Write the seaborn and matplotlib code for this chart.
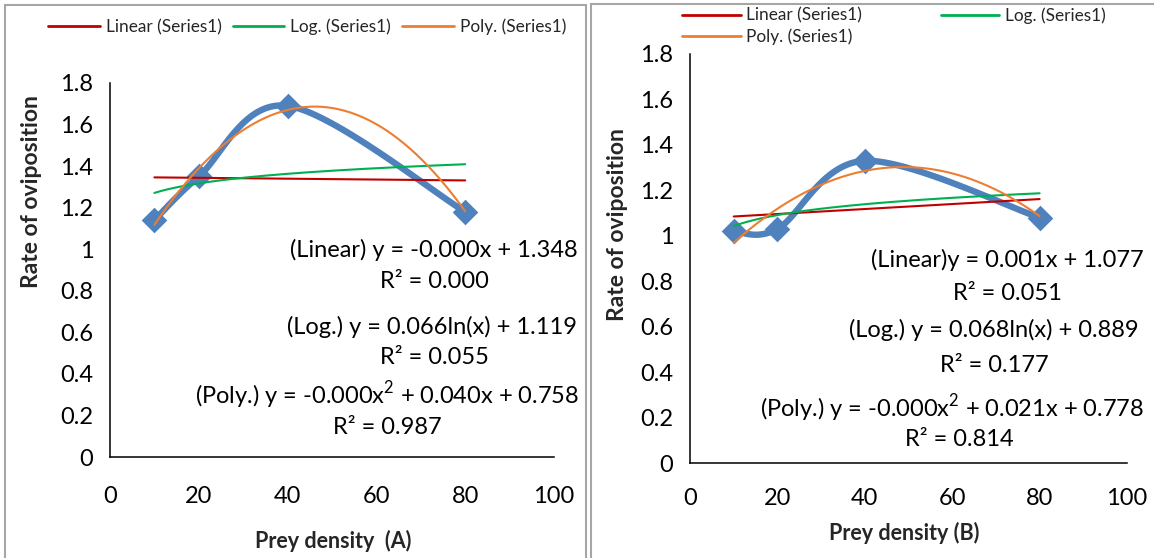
import numpy as np
import matplotlib
matplotlib.use("Agg")
import matplotlib.pyplot as plt
import matplotlib.patches as mpatches
from matplotlib.lines import Line2D
import seaborn as sns

# ---------------- data ----------------
prey_density = [10, 20, 40, 80]
rate_A = [1.14, 1.35, 1.69, 1.18]
rate_B = [1.02, 1.03, 1.33, 1.08]

eq_A = ["(Linear) y = -0.000x + 1.348", "R² = 0.000",
        "(Log.) y = 0.066ln(x) + 1.119", "R² = 0.055",
        "(Poly.) y = -0.000x$^2$ + 0.040x + 0.758", "R² = 0.987"]
eq_B = ["(Linear)y = 0.001x + 1.077", "R² = 0.051",
        "(Log.) y = 0.068ln(x) + 0.889", "R² = 0.177",
        "(Poly.) y = -0.000x$^2$ + 0.021x + 0.778", "R² = 0.814"]
legend_labels = ["Linear (Series1)", "Log. (Series1)", "Poly. (Series1)"]
xlabels = ["Prey density  (A)", "Prey density (B)"]
ylabel = "Rate of oviposition"
xticks = [0, 20, 40, 60, 80, 100]
yticks = [0, 0.2, 0.4, 0.6, 0.8, 1.0, 1.2, 1.4, 1.6, 1.8]
ytick_labels = ["0", "0.2", "0.4", "0.6", "0.8", "1", "1.2", "1.4", "1.6", "1.8"]

# ---------------- style ----------------
sns.set_theme(style="white")
plt.rcParams["font.family"] = ["Lato", "DejaVu Sans"]
plt.rcParams["mathtext.fontset"] = "custom"
plt.rcParams["mathtext.rm"] = "Lato"

BLUE = "#4F81BD"
RED = "#C00000"
GREEN = "#00B050"
ORANGE = "#ED7D31"
EQ_FS = 17
TICK_FS = 17


def smooth_curve(x, y, n=40):
    """Catmull-Rom style smoothing (like a spreadsheet 'smoothed line')."""
    x = np.asarray(x, float)
    y = np.asarray(y, float)
    P = np.column_stack([x, y])
    out = []
    for i in range(len(P) - 1):
        p0 = P[i - 1] if i > 0 else P[i]
        p1 = P[i]
        p2 = P[i + 1]
        p3 = P[i + 2] if i + 2 < len(P) else P[i + 1]
        c1 = p1 + (p2 - p0) / 6.0
        c2 = p2 - (p3 - p1) / 6.0
        t = np.linspace(0, 1, n)[:, None]
        seg = ((1 - t) ** 3) * p1 + 3 * ((1 - t) ** 2) * t * c1 + 3 * (1 - t) * t ** 2 * c2 + t ** 3 * p2
        out.append(seg if i == 0 else seg[1:])
    s = np.vstack(out)
    return s[:, 0], s[:, 1]


fig = plt.figure(figsize=(11.54, 5.58), dpi=100)

# panel borders
fig.patches.append(mpatches.Rectangle((5 / 1154, -0.01), (586 - 5) / 1154, (553 / 558) + 0.01,
                                      transform=fig.transFigure, fill=False,
                                      edgecolor="#A6A6A6", linewidth=1.5))
fig.patches.append(mpatches.Rectangle((591 / 1154, -0.01), 0.5, (554 / 558) + 0.01,
                                      transform=fig.transFigure, fill=False,
                                      edgecolor="#A6A6A6", linewidth=1.5))

axA = fig.add_axes([110 / 1154, (558 - 457) / 558, 444 / 1154, 374 / 558])
axB = fig.add_axes([690 / 1154, (558 - 463) / 558, 437 / 1154, 409 / 558])


def draw(ax, y, eqs, eq_pos, xpad):
    x = np.asarray(prey_density, float)
    yy = np.asarray(y, float)
    # smoothed series line
    sx, sy = smooth_curve(x, yy)
    sns.lineplot(x=sx, y=sy, ax=ax, sort=False, color=BLUE, linewidth=4.6, zorder=2)
    sns.scatterplot(x=x, y=yy, ax=ax, marker="D", s=170, color=BLUE, edgecolor=BLUE,
                    linewidth=0, zorder=3)
    # trendlines
    xf = np.linspace(x.min(), x.max(), 200)
    lin = np.polyfit(x, yy, 1)
    lg = np.polyfit(np.log(x), yy, 1)
    pl = np.polyfit(x, yy, 2)
    sns.lineplot(x=xf, y=np.polyval(lin, xf), ax=ax, color=RED, linewidth=1.5, zorder=4)
    sns.lineplot(x=xf, y=np.polyval(lg, np.log(xf)), ax=ax, color=GREEN, linewidth=1.5, zorder=4)
    sns.lineplot(x=xf, y=np.polyval(pl, xf), ax=ax, color=ORANGE, linewidth=1.5, zorder=4)

    ax.set_xlim(0, 100)
    ax.set_ylim(0, 1.8)
    ax.set_xticks(xticks)
    ax.set_yticks(yticks)
    ax.set_yticklabels(ytick_labels)
    ax.tick_params(axis="both", labelsize=TICK_FS, colors="black", length=6, width=1.1,
                   direction="out", pad=6)
    ax.tick_params(axis="x", pad=xpad)
    for s in ["top", "right"]:
        ax.spines[s].set_visible(False)
    for s in ["left", "bottom"]:
        ax.spines[s].set_color("black")
        ax.spines[s].set_linewidth(1.1)
    ax.set_facecolor("none")
    for txt, (px, py) in zip(eqs, eq_pos):
        fig.text(px / 1154, 1 - py / 558, txt, ha="center", va="center", fontsize=EQ_FS,
                 color="black")


draw(axA, rate_A, eq_A,
     [(434, 250), (434, 282), (432, 327), (434, 357), (387, 395), (387, 427)], 15)
draw(axB, rate_B, eq_B,
     [(1007, 260), (1007, 293), (994, 330), (994, 365), (952, 408), (959, 440)], 12)

# axis labels
fig.text(333 / 1154, 1 - 541 / 558, xlabels[0], ha="center", va="center", fontsize=15.5,
         fontweight="bold")
fig.text(904 / 1154, 1 - 533 / 558, xlabels[1], ha="center", va="center", fontsize=15.5,
         fontweight="bold")
fig.text(32 / 1154, 1 - 192 / 558, ylabel, ha="center", va="center", fontsize=16.5,
         fontweight="bold", rotation=90)
fig.text(618 / 1154, 1 - 225 / 558, ylabel, ha="center", va="center", fontsize=16.5,
         fontweight="bold", rotation=90)

# legends
hl = {lab: Line2D([], [], color=c, linewidth=2) for lab, c in zip(legend_labels, (RED, GREEN, ORANGE))}
fig.legend([hl[l] for l in legend_labels], legend_labels, loc="center left",
           bbox_to_anchor=(48 / 1154, 1 - 27 / 558),
           ncol=3, frameon=False, fontsize=12.4, handlelength=3.0, handletextpad=0.35,
           columnspacing=0.64, borderaxespad=0, borderpad=0)
order_B = [legend_labels[0], legend_labels[2], legend_labels[1]]
fig.legend([hl[l] for l in order_B], order_B, loc="upper left",
           bbox_to_anchor=(682 / 1154, 1 - 7 / 558),
           ncol=2, frameon=False, fontsize=12.4, handlelength=3.4, handletextpad=0.3,
           columnspacing=4.6, borderaxespad=0, borderpad=0, labelspacing=0.3)

fig.savefig("out.png", dpi=100, facecolor="white")
